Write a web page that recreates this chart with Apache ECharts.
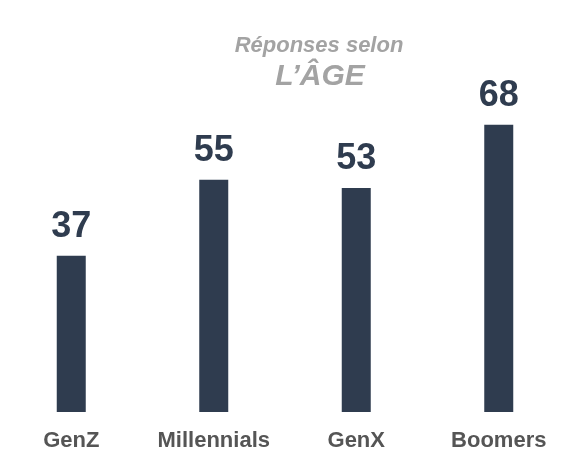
<!DOCTYPE html>
<html>
<head>
<meta charset="utf-8">
<script src="https://cdn.jsdelivr.net/npm/echarts@6/dist/echarts.min.js"></script>
<style>
  html, body { margin: 0; padding: 0; background: #fff; }
  #chart { width: 570px; height: 466px; }
</style>
</head>
<body>
<div id="chart"></div>
<script>
const categories = ['GenZ', 'Millennials', 'GenX', 'Boomers'];
const values = [37, 55, 53, 68];

const chart = echarts.init(document.getElementById('chart'));
const font = 'Liberation Sans, Arial, sans-serif';

const option = {
  animation: false,
  title: [
    {
      text: 'Réponses selon',
      left: 314,
      top: 30,
      textAlign: 'center',
      textStyle: { color: '#a3a3a3', fontSize: 22, fontWeight: 'bold', fontStyle: 'italic', fontFamily: font }
    },
    {
      text: 'L’ÂGE',
      left: 315,
      top: 57,
      textAlign: 'center',
      textStyle: { color: '#a3a3a3', fontSize: 30, fontWeight: 'bold', fontStyle: 'italic', fontFamily: font }
    }
  ],
  grid: {
    left: -1,
    right: -5,
    top: 74,
    bottom: 54,
    containLabel: false
  },
  xAxis: {
    type: 'category',
    data: categories,
    axisLine: { show: false },
    axisTick: { show: false },
    axisLabel: {
      interval: 0,
      hideOverlap: false,
      margin: 18,
      color: '#555555',
      fontSize: 22,
      fontWeight: 'bold',
      fontFamily: font
    }
  },
  yAxis: {
    type: 'value',
    min: 0,
    max: 80,
    show: false,
    splitLine: { show: false }
  },
  series: [{
    type: 'bar',
    data: values,
    barWidth: 29,
    itemStyle: { color: '#2f3c4f' },
    label: {
      show: true,
      position: 'top',
      distance: 11,
      color: '#2f3c4f',
      fontSize: 36,
      fontWeight: 'bold',
      fontFamily: font
    }
  }]
};

chart.setOption(option);
</script>
</body>
</html>
